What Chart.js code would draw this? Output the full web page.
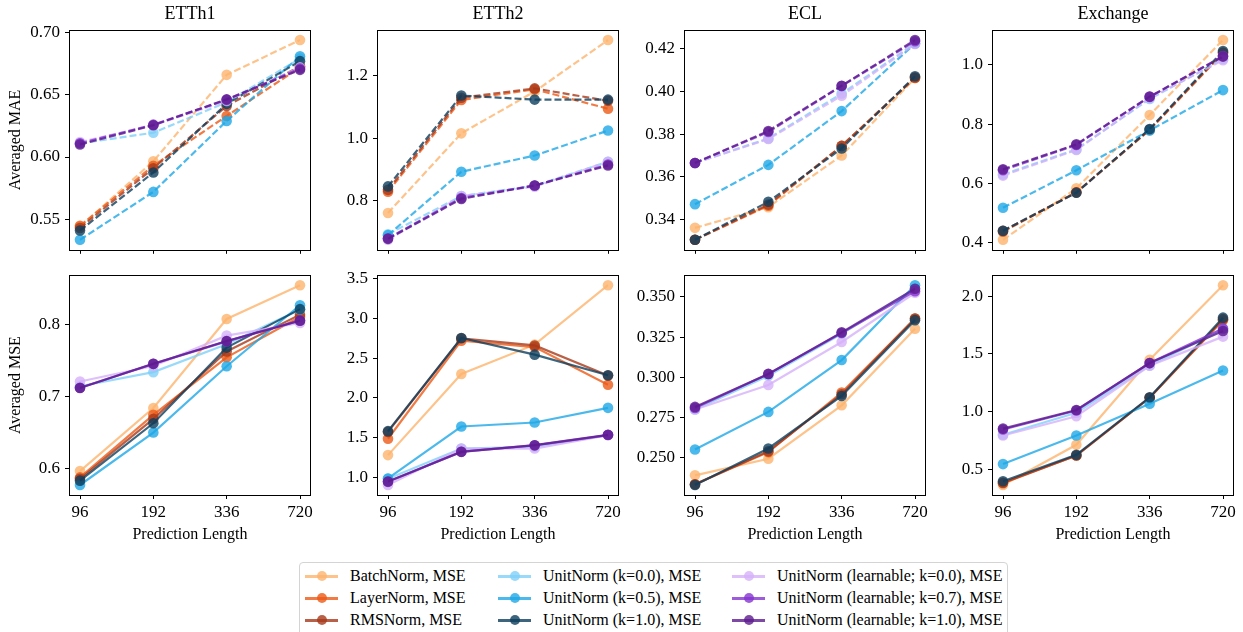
<!DOCTYPE html>
<html>
<head>
<meta charset="utf-8">
<script src="https://cdn.jsdelivr.net/npm/chart.js@4.4.1/dist/chart.umd.min.js"></script>
<style>
  html, body { margin: 0; padding: 0; background: #fff; }
  body { width: 1243px; height: 632px; overflow: hidden; position: relative; font-family: 'Liberation Serif', 'Times New Roman', serif; }
  canvas { position: absolute; }
  #legend { position: absolute; left: 299px; top: 562px; width: 709px; height: 90px; border: 1px solid #d4d4d4; border-radius: 4px; box-sizing: border-box; background: #fff; }
  .item { position: absolute; height: 20px; font-size: 16px; line-height: 20px; color: #000; white-space: nowrap; }
  .item .ln { position: absolute; left: 0; top: 9px; width: 33px; height: 3px; }
  .item .dot { position: absolute; left: 12px; top: 5.5px; width: 10px; height: 10px; border-radius: 50%; }
  .item .tx { position: absolute; left: 45px; top: 0; }
</style>
</head>
<body>
<div id="legend"></div>
<script>
// ---------------- data ----------------
const lengths = ['96', '192', '336', '720'];
const datasetNames = ['ETTh1', 'ETTh2', 'ECL', 'Exchange'];
const seriesNames = [
  'BatchNorm, MSE', 'LayerNorm, MSE', 'RMSNorm, MSE',
  'UnitNorm (k=0.0), MSE', 'UnitNorm (k=0.5), MSE', 'UnitNorm (k=1.0), MSE',
  'UnitNorm (learnable; k=0.0), MSE', 'UnitNorm (learnable; k=0.7), MSE', 'UnitNorm (learnable; k=1.0), MSE'
];

// Averaged MAE (rows follow seriesNames order)
const etth1Mae = [
  [0.544, 0.5966, 0.666, 0.694],
  [0.5447, 0.593, 0.633, 0.672],
  [0.543, 0.591, 0.641, 0.673],
  [0.611, 0.6195, 0.644, 0.679],
  [0.5335, 0.572, 0.629, 0.681],
  [0.541, 0.5876, 0.6427, 0.677],
  [0.612, 0.6255, 0.645, 0.672],
  [0.611, 0.626, 0.646, 0.671],
  [0.610, 0.6255, 0.6463, 0.670]
];
const etth2Mae = [
  [0.761, 1.016, 1.15, 1.315],
  [0.829, 1.123, 1.157, 1.095],
  [0.835, 1.13, 1.16, 1.12],
  [0.693, 0.815, 0.848, 0.925],
  [0.690, 0.893, 0.945, 1.025],
  [0.846, 1.137, 1.124, 1.124],
  [0.675, 0.815, 0.845, 0.925],
  [0.680, 0.809, 0.849, 0.916],
  [0.678, 0.806, 0.849, 0.913]
];
const eclMae = [
  [0.3361, 0.3458, 0.370, 0.4063],
  [0.3305, 0.3465, 0.3745, 0.4063],
  [0.3305, 0.347, 0.3745, 0.4065],
  [0.3665, 0.378, 0.399, 0.4225],
  [0.3472, 0.3656, 0.3908, 0.4225],
  [0.3305, 0.3483, 0.3733, 0.4071],
  [0.3665, 0.3777, 0.398, 0.4222],
  [0.3665, 0.381, 0.4025, 0.4235],
  [0.3665, 0.3815, 0.4027, 0.4241]
];
const exchangeMae = [
  [0.410, 0.584, 0.831, 1.084],
  [0.437, 0.570, 0.780, 1.040],
  [0.440, 0.570, 0.782, 1.042],
  [0.630, 0.715, 0.885, 1.020],
  [0.518, 0.6445, 0.779, 0.915],
  [0.4405, 0.5686, 0.784, 1.047],
  [0.6266, 0.713, 0.888, 1.016],
  [0.645, 0.730, 0.892, 1.030],
  [0.648, 0.732, 0.893, 1.028]
];

// Averaged MSE
const etth1Mse = [
  [0.5968, 0.684, 0.807, 0.8537],
  [0.588, 0.6745, 0.754, 0.810],
  [0.586, 0.669, 0.762, 0.813],
  [0.714, 0.7335, 0.772, 0.820],
  [0.5775, 0.650, 0.7417, 0.826],
  [0.5835, 0.6628, 0.7674, 0.8206],
  [0.7206, 0.742, 0.784, 0.8014],
  [0.712, 0.745, 0.776, 0.805],
  [0.7115, 0.745, 0.7766, 0.8046]
];
const etth2Mse = [
  [1.277, 2.30, 2.67, 3.42],
  [1.483, 2.72, 2.64, 2.164],
  [1.57, 2.75, 2.66, 2.28],
  [0.98, 1.36, 1.38, 1.53],
  [0.983, 1.638, 1.688, 1.873],
  [1.579, 2.754, 2.544, 2.285],
  [0.90, 1.36, 1.36, 1.53],
  [0.94, 1.32, 1.40, 1.53],
  [0.945, 1.318, 1.402, 1.533]
];
const eclMse = [
  [0.2391, 0.2494, 0.2826, 0.3302],
  [0.2335, 0.2535, 0.2905, 0.3365],
  [0.2335, 0.254, 0.2895, 0.3365],
  [0.280, 0.301, 0.327, 0.355],
  [0.2552, 0.2785, 0.3107, 0.3572],
  [0.2331, 0.2558, 0.2884, 0.3355],
  [0.280, 0.2952, 0.3219, 0.3525],
  [0.281, 0.302, 0.3275, 0.3535],
  [0.2816, 0.3021, 0.3279, 0.355]
];
const exchangeMse = [
  [0.365, 0.713, 1.448, 2.094],
  [0.38, 0.62, 1.12, 1.79],
  [0.385, 0.62, 1.12, 1.80],
  [0.80, 0.99, 1.40, 1.71],
  [0.546, 0.793, 1.069, 1.356],
  [0.397, 0.626, 1.124, 1.813],
  [0.793, 0.960, 1.397, 1.649],
  [0.845, 1.01, 1.42, 1.72],
  [0.853, 1.014, 1.42, 1.698]
];

// y tick labels
const etth1MaeTicks = ['0.55', '0.60', '0.65', '0.70'];
const etth2MaeTicks = ['0.8', '1.0', '1.2'];
const eclMaeTicks = ['0.34', '0.36', '0.38', '0.40', '0.42'];
const exchangeMaeTicks = ['0.4', '0.6', '0.8', '1.0'];
const etth1MseTicks = ['0.6', '0.7', '0.8'];
const etth2MseTicks = ['1.0', '1.5', '2.0', '2.5', '3.0', '3.5'];
const eclMseTicks = ['0.250', '0.275', '0.300', '0.325', '0.350'];
const exchangeMseTicks = ['0.5', '1.0', '1.5', '2.0'];

// ---------------- styles ----------------
const seriesColors = [
  [253, 180, 110], [236, 90, 22], [168, 58, 26],
  [127, 208, 247], [30, 168, 230], [14, 63, 94],
  [214, 176, 249], [132, 51, 207], [94, 28, 142]
];
const ALPHA = 0.8;
const rgba = (c, a) => `rgba(${c[0]},${c[1]},${c[2]},${a})`;
const SERIF = "'Liberation Serif', 'Times New Roman', Times, serif";

const framePlugin = {
  id: 'frame',
  afterDatasetsDraw(chart) {
    const { ctx, chartArea: a } = chart;
    ctx.save();
    ctx.strokeStyle = '#000';
    ctx.lineWidth = 1;
    ctx.strokeRect(Math.round(a.left) + 0.5, Math.round(a.top) + 0.5,
      Math.round(a.right - a.left) - 1, Math.round(a.bottom - a.top));
    ctx.restore();
  }
};

const panels = [
  { row: 0, col: 0, data: etth1Mae, ticks: etth1MaeTicks },
  { row: 0, col: 1, data: etth2Mae, ticks: etth2MaeTicks },
  { row: 0, col: 2, data: eclMae, ticks: eclMaeTicks },
  { row: 0, col: 3, data: exchangeMae, ticks: exchangeMaeTicks },
  { row: 1, col: 0, data: etth1Mse, ticks: etth1MseTicks },
  { row: 1, col: 1, data: etth2Mse, ticks: etth2MseTicks },
  { row: 1, col: 2, data: eclMse, ticks: eclMseTicks },
  { row: 1, col: 3, data: exchangeMse, ticks: exchangeMseTicks }
];

const plotLefts = [69, 377, 684, 992];
const PLOT_W = 242;
const PLOT_H = 220;
const PAD_R = 10;

function buildLegend() {
  const legend = document.getElementById('legend');
  const legendColX = [305, 498, 732];
  const legendRowY = [575.5, 597.5, 619.5];
  seriesNames.forEach((name, i) => {
    const col = Math.floor(i / 3), row = i % 3;
    const it = document.createElement('div');
    it.className = 'item';
    it.style.left = (legendColX[col] - 299 - 1) + 'px';
    it.style.top = (legendRowY[row] - 10 - 562 - 1) + 'px';
    const c = rgba(seriesColors[i], ALPHA);
    it.innerHTML = `<div class="ln" style="background:${c}"></div><div class="dot" style="background:${c}"></div><span class="tx">${name}</span>`;
    legend.appendChild(it);
  });
}

function buildCharts() {
  Chart.defaults.font.family = SERIF;
  Chart.defaults.color = '#000';
  panels.forEach(p => {
    const L = plotLefts[p.col];
    const canvasLeft = p.col === 0 ? 0 : L - 60;
    const yW = L - canvasLeft;
    const width = yW + PLOT_W + PAD_R;
    let top, height, padTop, xH;
    if (p.row === 0) {
      top = 0; padTop = 0; xH = 15;
      height = 30 + PLOT_H + xH;
    } else {
      top = 260; padTop = 15; xH = 49;
      height = padTop + PLOT_H + xH;
    }
    const cv = document.createElement('canvas');
    cv.width = width; cv.height = height;
    cv.style.left = canvasLeft + 'px';
    cv.style.top = top + 'px';
    cv.style.width = width + 'px';
    cv.style.height = height + 'px';
    document.body.appendChild(cv);

    const all = p.data.flat();
    const mn = Math.min(...all), mx = Math.max(...all);
    const rng = mx - mn;

    const datasets = p.data.map((vals, i) => ({
      label: seriesNames[i],
      data: vals.map((v, j) => ({ x: j, y: v })),
      borderColor: rgba(seriesColors[i], ALPHA),
      backgroundColor: rgba(seriesColors[i], ALPHA),
      borderWidth: 2.2,
      borderDash: p.row === 0 ? [7, 3] : [],
      pointRadius: 5.3,
      pointHoverRadius: 5.3,
      pointBorderWidth: 0,
      tension: 0,
      order: p.data.length - i
    }));

    const tickLabels = p.ticks;
    new Chart(cv, {
      type: 'line',
      data: { datasets },
      plugins: [framePlugin],
      options: {
        responsive: false,
        animation: false,
        devicePixelRatio: 1,
        layout: { padding: { top: padTop, right: PAD_R, bottom: 0, left: 0 } },
        plugins: {
          legend: { display: false },
          tooltip: { enabled: false },
          title: {
            display: p.row === 0,
            text: datasetNames[p.col],
            fullSize: false,
            font: { family: SERIF, size: 18, weight: 'normal' },
            color: '#000',
            padding: { top: 3, bottom: 5.4 }
          }
        },
        scales: {
          x: {
            type: 'linear',
            min: -0.15,
            max: 3.15,
            afterBuildTicks: s => { s.ticks = lengths.map((_, i) => ({ value: i })); },
            afterFit: s => { s.height = xH; },
            ticks: {
              display: p.row === 1,
              callback: (v, i) => lengths[i],
              padding: 3,
              font: { family: SERIF, size: 17 },
              color: '#000',
              autoSkip: false,
              maxRotation: 0
            },
            grid: { display: true, drawOnChartArea: false, drawTicks: true, tickLength: 4, color: '#000', lineWidth: 1 },
            border: { display: false },
            title: { display: p.row === 1, text: 'Prediction Length', font: { family: SERIF, size: 16 }, color: '#000', padding: { top: 0, bottom: 0 } }
          },
          y: {
            type: 'linear',
            min: mn - 0.05 * rng,
            max: mx + 0.05 * rng,
            afterBuildTicks: s => { s.ticks = tickLabels.map(t => ({ value: parseFloat(t) })); },
            afterFit: s => { s.width = yW; },
            ticks: {
              callback: (v, i) => tickLabels[i],
              padding: 5,
              font: { family: SERIF, size: 17 },
              color: '#000',
              autoSkip: false
            },
            grid: { display: true, drawOnChartArea: false, drawTicks: true, tickLength: 4, color: '#000', lineWidth: 1 },
            border: { display: false },
            title: {
              display: p.col === 0,
              text: p.row === 0 ? 'Averaged MAE' : 'Averaged MSE',
              font: { family: SERIF, size: 16 },
              color: '#000',
              padding: { top: 6, bottom: 0 }
            }
          }
        }
      }
    });
  });
}

buildLegend();
if (document.fonts && document.fonts.load) {
  Promise.all([
    document.fonts.load("17px 'Liberation Serif'"),
    document.fonts.load("18px 'Liberation Serif'")
  ]).then(buildCharts, buildCharts);
} else {
  buildCharts();
}
</script>
</body>
</html>
